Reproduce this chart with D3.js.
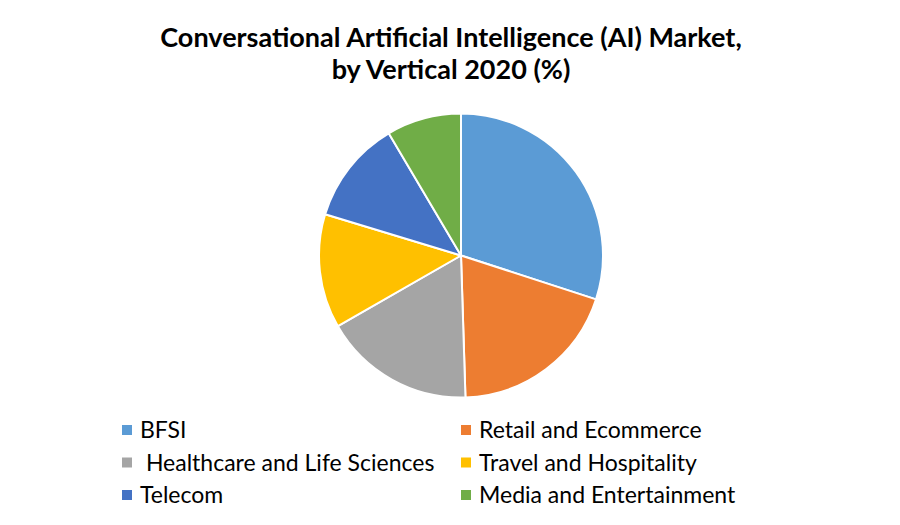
<!DOCTYPE html>
<html><head><meta charset="utf-8">
<script src="https://cdn.jsdelivr.net/npm/d3@7"></script>
<style>body{margin:0;background:#fff}svg{display:block}</style>
</head><body>
<script>
const categories = ["BFSI", "Retail and Ecommerce", " Healthcare and Life Sciences", "Travel and Hospitality", "Telecom", "Media and Entertainment"];
const values = [30, 19.5, 17.2, 13, 11.8, 8.5];
const colors = ["#5B9BD5", "#ED7D31", "#A5A5A5", "#FFC000", "#4472C4", "#70AD47"];
const titleLines = ["Conversational Artificial Intelligence (AI) Market,", "by Vertical 2020 (%)"];

const W = 900, H = 525;
const svg = d3.select("body").append("svg").attr("width", W).attr("height", H);
const font = "Lato, 'Open Sans', sans-serif";

svg.selectAll("text.title").data(titleLines).join("text")
  .attr("class", "title")
  .attr("x", 451).attr("y", (d, i) => 47 + i * 32)
  .attr("text-anchor", "middle")
  .attr("font-family", font).attr("font-weight", "bold").attr("font-size", 27)
  .attr("fill", "#000").text(d => d);

const data = categories.map((c, i) => ({c, v: values[i], col: colors[i]}));
const pie = d3.pie().value(d => d.v).sort(null);
const arc = d3.arc().innerRadius(0).outerRadius(142);
const g = svg.append("g").attr("transform", "translate(461,255.5)");
g.selectAll("path").data(pie(data)).join("path")
  .attr("d", arc).attr("fill", d => d.data.col)
  .attr("stroke", "#fff").attr("stroke-width", 2).attr("stroke-linejoin", "round");

const legend = svg.append("g");
const items = legend.selectAll("g").data(data).join("g")
  .attr("transform", (d, i) => `translate(${i % 2 === 0 ? 122 : 461},${430 + Math.floor(i / 2) * 32.5})`);
items.append("rect").attr("x", 0).attr("y", -5).attr("width", 10).attr("height", 10).attr("fill", d => d.col);
items.append("text").attr("x", 18).attr("y", 8)
  .attr("font-family", font).attr("font-size", 23).attr("fill", "#000")
  .attr("xml:space", "preserve").style("white-space", "pre")
  .text(d => d.c);
</script>
</body></html>
